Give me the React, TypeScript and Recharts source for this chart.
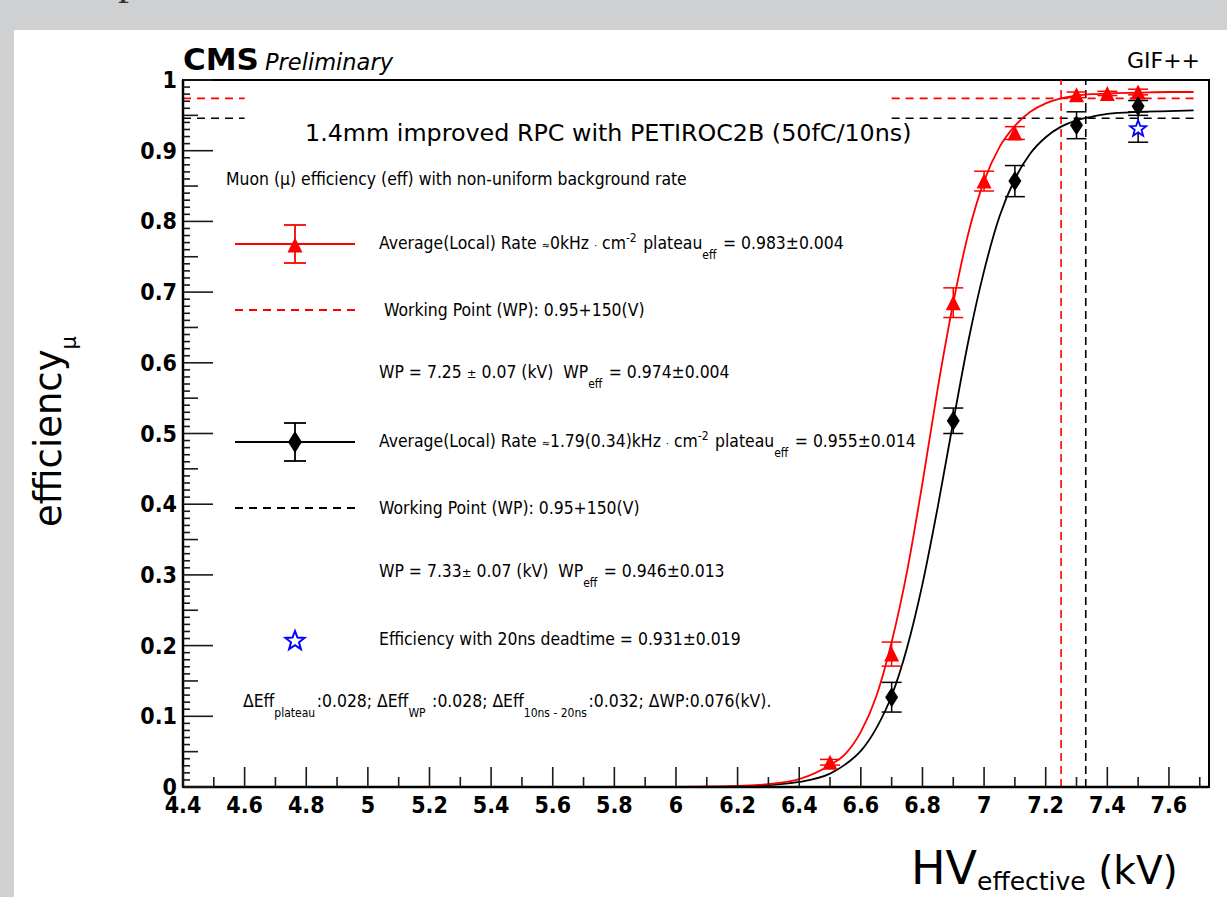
import React from "react";
import {
  ComposedChart,
  Line,
  Scatter,
  XAxis,
  YAxis,
  ErrorBar,
  ReferenceLine,
  ReferenceArea,
} from "recharts";

// ---------------- data ----------------
const xMajorTicks = [4.4, 4.6, 4.8, 5.0, 5.2, 5.4, 5.6, 5.8, 6.0, 6.2, 6.4, 6.6, 6.8, 7.0, 7.2, 7.4, 7.6];
const xTickLabels = ["4.4", "4.6", "4.8", "5", "5.2", "5.4", "5.6", "5.8", "6", "6.2", "6.4", "6.6", "6.8", "7", "7.2", "7.4", "7.6"];
const yMajorTicks = [0, 0.1, 0.2, 0.3, 0.4, 0.5, 0.6, 0.7, 0.8, 0.9, 1.0];
const yTickLabels = ["0", "0.1", "0.2", "0.3", "0.4", "0.5", "0.6", "0.7", "0.8", "0.9", "1"];

// Average(Local) Rate ~0 kHz/cm2 (red triangles)
const hvRed = [6.5, 6.7, 6.9, 7.0, 7.1, 7.3, 7.4, 7.5];
const effRed = [0.035, 0.188, 0.685, 0.857, 0.925, 0.979, 0.981, 0.983];
const errRed = [0.004, 0.017, 0.021, 0.014, 0.009, 0.004, 0.003, 0.004];

// Average(Local) Rate ~1.79 kHz/cm2 (black diamonds)
const hvBlack = [6.7, 6.9, 7.1, 7.3, 7.5];
const effBlack = [0.127, 0.518, 0.857, 0.936, 0.963];
const errBlack = [0.021, 0.018, 0.022, 0.019, 0.008];

// 20ns deadtime (blue star)
const hvStar = [7.5];
const effStar = [0.931];
const errStar = [0.019];

// fitted sigmoid curves
const fitHv = [4.4, 5.8, 6.0, 6.1, 6.2, 6.3, 6.4, 6.5, 6.55, 6.6, 6.65, 6.7, 6.75, 6.8, 6.85, 6.9, 6.95, 7.0, 7.05, 7.1, 7.15, 7.2, 7.25, 7.3, 7.35, 7.4, 7.5, 7.6, 7.68];
const fitRed = [0, 0.0001, 0.0003, 0.0008, 0.0017, 0.004, 0.011, 0.031, 0.047, 0.078, 0.128, 0.205, 0.305, 0.43, 0.565, 0.685, 0.785, 0.857, 0.905, 0.935, 0.955, 0.967, 0.974, 0.978, 0.98, 0.981, 0.982, 0.983, 0.983];
const fitBlack = [0, 0, 0.0001, 0.0003, 0.001, 0.0026, 0.0071, 0.019, 0.032, 0.051, 0.083, 0.129, 0.197, 0.287, 0.397, 0.517, 0.633, 0.73, 0.807, 0.86, 0.896, 0.919, 0.934, 0.943, 0.948, 0.952, 0.955, 0.956, 0.957];

// working points
const wpRedHv = 7.25;
const wpRedEff = 0.974;
const wpBlackHv = 7.33;
const wpBlackEff = 0.946;
const wpLineLeft = [4.4, 4.6];
const wpLineRight = [6.7, 7.68];

// ---------------- layout ----------------
const W = 1227;
const H = 897;
const Y_AXIS_W = 60;
const X_AXIS_H = 50;
const PLOT_LEFT = 183;
const PLOT_BOTTOM = 787;
const MARGIN = { top: 80, right: 18, bottom: H - PLOT_BOTTOM - X_AXIS_H, left: PLOT_LEFT - Y_AXIS_W };
const X_DOMAIN: [number, number] = [4.4, 7.73];
const Y_DOMAIN: [number, number] = [0, 1];

const RED = "#ff0000";
const BLUE = "#0000ff";
const SANS = "'DejaVu Sans', 'Liberation Sans', sans-serif";
const COND = "'DejaVu Sans Condensed', 'DejaVu Sans', sans-serif";

const xAllTicks = Array.from({ length: 34 }, (_, i) => (44 + i) / 10);
const yAllTicks = Array.from({ length: 101 }, (_, i) => i / 100);

const zip = (xs: number[], ys: number[], es?: number[]) =>
  xs.map((x, i) => ({ x, y: ys[i], err: es ? es[i] : 0 }));

const redData = zip(hvRed, effRed, errRed);
const blackData = zip(hvBlack, effBlack, errBlack);
const starData = zip(hvStar, effStar, errStar);
const redFitData = zip(fitHv, fitRed);
const blackFitData = zip(fitHv, fitBlack);

// ---------------- shapes ----------------
const triPts = (cx: number, cy: number, s: number) =>
  `${cx},${cy - s} ${cx - s},${cy + s} ${cx + s},${cy + s}`;
const diaPts = (cx: number, cy: number, w: number, h: number) =>
  `${cx},${cy - h} ${cx + w},${cy} ${cx},${cy + h} ${cx - w},${cy}`;
const starPts = (cx: number, cy: number, R: number, r: number) => {
  const pts: string[] = [];
  for (let i = 0; i < 10; i++) {
    const a = ((-90 + i * 36) * Math.PI) / 180;
    const rad = i % 2 === 0 ? R : r;
    pts.push(`${(cx + rad * Math.cos(a)).toFixed(2)},${(cy + rad * Math.sin(a)).toFixed(2)}`);
  }
  return pts.join(" ");
};

const TriangleShape = (p: any) => <polygon points={triPts(p.cx, p.cy, 7.5)} fill={RED} />;
const DiamondShape = (p: any) => <polygon points={diaPts(p.cx, p.cy, 6.5, 10)} fill="#000" />;
const StarShape = (p: any) => (
  <polygon points={starPts(p.cx, p.cy, 8.5, 3.6)} fill="#fff" stroke={BLUE} strokeWidth={1.8} />
);

// ---------------- ticks ----------------
const near = (a: number, b: number) => Math.abs(a - b) < 1e-6;

const YTick = (props: any) => {
  const v = props.payload.value as number;
  const y = props.y as number;
  const majorIdx = yMajorTicks.findIndex((t) => near(t, v));
  const isMajor = majorIdx >= 0;
  const isMid = !isMajor && near(Math.round(v * 20), v * 20);
  const len = isMajor ? 30 : isMid ? 15 : 7;
  return (
    <g>
      <line x1={PLOT_LEFT} x2={PLOT_LEFT + len} y1={y} y2={y} stroke="#1a1a1a" strokeWidth={1.6} />
      {isMajor && (
        <text
          x={PLOT_LEFT - 6}
          y={y}
          dy={8}
          textAnchor="end"
          fontFamily={COND}
          fontWeight="bold"
          fontSize={23}
          fill="#000"
        >
          {yTickLabels[majorIdx]}
        </text>
      )}
    </g>
  );
};

const XTick = (props: any) => {
  const v = props.payload.value as number;
  const x = props.x as number;
  const majorIdx = xMajorTicks.findIndex((t) => near(t, v));
  const isMajor = majorIdx >= 0;
  const len = isMajor ? 20 : 10;
  return (
    <g>
      <line x1={x} x2={x} y1={PLOT_BOTTOM} y2={PLOT_BOTTOM - len} stroke="#1a1a1a" strokeWidth={1.6} />
      {isMajor && (
        <text
          x={x}
          y={PLOT_BOTTOM + 26}
          textAnchor="middle"
          fontFamily={COND}
          fontWeight="bold"
          fontSize={23}
          fill="#000"
        >
          {xTickLabels[majorIdx]}
        </text>
      )}
    </g>
  );
};

// ---------------- legend / annotations overlay ----------------
const Sub = ({ children, dy = 10 }: any) => (
  <>
    <tspan fontSize={12} dy={dy}>
      {children}
    </tspan>
    <tspan dy={-dy}>{"\u200a"}</tspan>
  </>
);
const Sup = ({ children }: any) => (
  <>
    <tspan fontSize={12} dy={-7}>
      {children}
    </tspan>
    <tspan dy={7}>{"\u200a"}</tspan>
  </>
);

const LegendMarker = ({ cy, color, kind }: any) => (
  <g>
    <line x1={235} x2={355} y1={cy} y2={cy} stroke={color} strokeWidth={1.8} />
    <line x1={295} x2={295} y1={cy - 19} y2={cy + 19} stroke={color} strokeWidth={1.8} />
    <line x1={284} x2={306} y1={cy - 19} y2={cy - 19} stroke={color} strokeWidth={1.8} />
    <line x1={284} x2={306} y1={cy + 19} y2={cy + 19} stroke={color} strokeWidth={1.8} />
    {kind === "tri" ? (
      <polygon points={triPts(295, cy + 1, 7.5)} fill={color} />
    ) : (
      <polygon points={diaPts(295, cy, 7, 11)} fill={color} />
    )}
  </g>
);

const NB = "\u00a0";

const Overlay = () => (
  <svg
    width={W}
    height={H}
    style={{ position: "absolute", left: 0, top: 0, pointerEvents: "none" }}
  >
    {/* header */}
    <text x={183} y={70} fontFamily={SANS} fontWeight="bold" fontSize={31} fill="#000">
      CMS
    </text>
    <text x={265} y={70} fontFamily={SANS} fontStyle="italic" fontSize={22.5} fill="#000">
      Preliminary
    </text>
    <text x={1200} y={68} textAnchor="end" fontFamily={SANS} fontSize={22} fill="#000">
      GIF++
    </text>
    <text x={305} y={141} fontFamily={SANS} fontSize={23.8} fill="#000">
      1.4mm improved RPC with PETIROC2B (50fC/10ns)
    </text>

    {/* legend */}
    <g fontFamily={COND} fontSize={17.4} fill="#000">
      <text x={226} y={185}>Muon (μ) efficiency (eff) with non-uniform background rate</text>

      <LegendMarker cy={244} color={RED} kind="tri" />
      <text x={379} y={249}>
        Average(Local) Rate <tspan fontSize={11}>≈</tspan>0kHz <tspan fontSize={11}>·</tspan> cm
        <Sup>-2</Sup> plateau<Sub>eff</Sub> = 0.983±0.004
      </text>

      <line x1={235} x2={355} y1={310} y2={310} stroke={RED} strokeWidth={1.8} strokeDasharray="8 6" />
      <text x={384} y={316}>Working Point (WP): 0.95+150(V)</text>

      <text x={379} y={378}>
        WP = 7.25 <tspan fontSize={13}>±</tspan> 0.07 (kV){NB} WP<Sub>eff</Sub> = 0.974±0.004
      </text>

      <LegendMarker cy={442} color="#000" kind="dia" />
      <text x={379} y={447}>
        Average(Local) Rate <tspan fontSize={11}>≈</tspan>1.79(0.34)kHz <tspan fontSize={11}>·</tspan> cm
        <Sup>-2</Sup> plateau<Sub>eff</Sub> = 0.955±0.014
      </text>

      <line x1={235} x2={355} y1={508} y2={508} stroke="#000" strokeWidth={1.8} strokeDasharray="8 6" />
      <text x={379} y={514}>Working Point (WP): 0.95+150(V)</text>

      <text x={379} y={577}>
        WP = 7.33<tspan fontSize={13}>±</tspan> 0.07 (kV){NB} WP<Sub>eff</Sub> = 0.946±0.013
      </text>

      <polygon points={starPts(295, 641, 10, 4.2)} fill="#fff" stroke={BLUE} strokeWidth={2} />
      <text x={379} y={645}>Efficiency with 20ns deadtime = 0.931±0.019</text>

      <text x={243} y={707}>
        ΔEff<Sub>plateau</Sub>:0.028; ΔEff<Sub>WP</Sub> :0.028; ΔEff<Sub>10ns - 20ns</Sub>:0.032; ΔWP:0.076(kV).
      </text>
    </g>

    {/* axis titles */}
    <text
      transform="translate(61,527) rotate(-90)"
      fontFamily={SANS}
      fontSize={37}
      fill="#000"
    >
      efficiency
      <tspan fontSize={21} dy={15}>
        μ
      </tspan>
    </text>
    <text x={911} y={884} fontFamily={SANS} fontSize={46} fill="#000">
      HV
      <tspan fontSize={25} dy={6}>
        effective
      </tspan>
      <tspan dy={-6} fontSize={39}>
        {NB}(kV)
      </tspan>
    </text>
  </svg>
);

// ---------------- chart ----------------
export default function App() {
  return (
    <div
      style={{
        position: "absolute",
        left: 0,
        top: 0,
        width: W,
        height: H,
        overflow: "hidden",
        background: "#cfd0d2",
      }}
    >
      <div
        style={{
          position: "absolute",
          left: 118,
          top: -46,
          fontFamily: "'Liberation Serif', serif",
          fontSize: 44,
          color: "#333",
        }}
      >
        p
      </div>
      <div
        style={{ position: "absolute", left: 14, top: 30, width: W - 14, height: H - 30, background: "#fff" }}
      />
      <div style={{ position: "absolute", left: 0, top: 0 }}>
        <ComposedChart width={W} height={H} margin={MARGIN}>
          <XAxis
            dataKey="x"
            type="number"
            domain={X_DOMAIN}
            allowDataOverflow
            ticks={xAllTicks}
            interval={0}
            tick={XTick}
            tickLine={false}
            axisLine={{ stroke: "#000", strokeWidth: 2.5 }}
            height={X_AXIS_H}
          />
          <YAxis
            dataKey="y"
            type="number"
            domain={Y_DOMAIN}
            allowDataOverflow
            ticks={yAllTicks}
            interval={0}
            tick={YTick}
            tickLine={false}
            axisLine={{ stroke: "#000", strokeWidth: 2.5 }}
            width={Y_AXIS_W}
          />
          <ReferenceArea
            x1={X_DOMAIN[0]}
            x2={X_DOMAIN[1]}
            y1={Y_DOMAIN[0]}
            y2={Y_DOMAIN[1]}
            fill="none"
            fillOpacity={0}
            stroke="#000"
            strokeWidth={2}
          />
          <ReferenceLine
            segment={[{ x: wpLineLeft[0], y: wpRedEff }, { x: wpLineLeft[1], y: wpRedEff }]}
            stroke={RED}
            strokeWidth={1.6}
            strokeDasharray="8 6"
          />
          <ReferenceLine
            segment={[{ x: wpLineRight[0], y: wpRedEff }, { x: wpLineRight[1], y: wpRedEff }]}
            stroke={RED}
            strokeWidth={1.6}
            strokeDasharray="8 6"
          />
          <ReferenceLine
            segment={[{ x: wpLineLeft[0], y: wpBlackEff }, { x: wpLineLeft[1], y: wpBlackEff }]}
            stroke="#000"
            strokeWidth={1.6}
            strokeDasharray="8 6"
          />
          <ReferenceLine
            segment={[{ x: wpLineRight[0], y: wpBlackEff }, { x: wpLineRight[1], y: wpBlackEff }]}
            stroke="#000"
            strokeWidth={1.6}
            strokeDasharray="8 6"
          />
          <ReferenceLine x={wpRedHv} stroke={RED} strokeWidth={1.6} strokeDasharray="8 5" />
          <ReferenceLine x={wpBlackHv} stroke="#000" strokeWidth={1.6} strokeDasharray="8 5" />
          <Line
            data={blackFitData}
            dataKey="y"
            type="monotone"
            stroke="#000"
            strokeWidth={1.8}
            dot={false}
            activeDot={false}
            isAnimationActive={false}
          />
          <Line
            data={redFitData}
            dataKey="y"
            type="monotone"
            stroke={RED}
            strokeWidth={1.8}
            dot={false}
            activeDot={false}
            isAnimationActive={false}
          />
          <Scatter data={redData} dataKey="y" shape={TriangleShape} isAnimationActive={false}>
            <ErrorBar dataKey="err" direction="y" width={10} stroke={RED} strokeWidth={1.5} />
          </Scatter>
          <Scatter data={blackData} dataKey="y" shape={DiamondShape} isAnimationActive={false}>
            <ErrorBar dataKey="err" direction="y" width={10} stroke="#000" strokeWidth={1.5} />
          </Scatter>
          <Scatter data={starData} dataKey="y" shape={StarShape} isAnimationActive={false}>
            <ErrorBar dataKey="err" direction="y" width={10} stroke="#000" strokeWidth={1.5} />
          </Scatter>
        </ComposedChart>
      </div>
      <Overlay />
    </div>
  );
}
